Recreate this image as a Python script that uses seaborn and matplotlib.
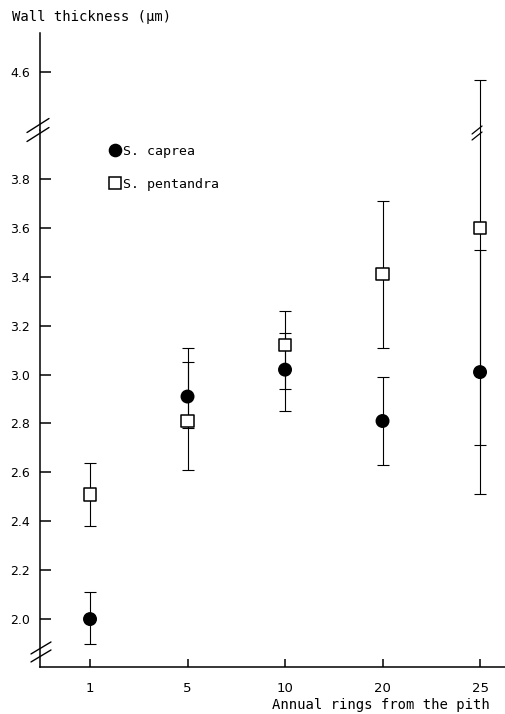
import numpy as np
import pandas as pd
import seaborn as sns
import matplotlib
matplotlib.use("Agg")
import matplotlib.pyplot as plt
from matplotlib.lines import Line2D
from matplotlib.transforms import IdentityTransform

# values
rings = ["1", "5", "10", "20", "25"]
caprea_mean = [2.00, 2.91, 3.02, 2.81, 3.01]
caprea_low = [1.90, 2.78, 2.85, 2.63, 2.51]
caprea_high = [2.11, 3.11, 3.17, 2.99, 3.51]
pentandra_mean = [2.51, 2.81, 3.12, 3.41, 3.60]
pentandra_low = [2.38, 2.61, 2.94, 3.11, 2.71]
pentandra_high = [2.64, 3.05, 3.26, 3.71, 4.57]

pos = np.arange(len(rings))
df = pd.concat([
    pd.DataFrame({"species": "S. caprea", "pos": pos, "mean": caprea_mean,
                  "low": caprea_low, "high": caprea_high}),
    pd.DataFrame({"species": "S. pentandra", "pos": pos, "mean": pentandra_mean,
                  "low": pentandra_low, "high": pentandra_high}),
], ignore_index=True)

sns.set_style("ticks")
plt.rcParams['font.family'] = ['DejaVu Sans Condensed', 'Liberation Sans Narrow', 'DejaVu Sans']
for k in ('text.color', 'axes.edgecolor', 'axes.labelcolor', 'xtick.color', 'ytick.color'):
    plt.rcParams[k] = 'black'
mono = 'DejaVu Sans Mono'

W, H = 505, 714
fig = plt.figure(figsize=(W / 100, H / 100), dpi=100)
ax = fig.add_axes([40 / W, 47 / H, 465 / W, 537 / H])
ax_top = fig.add_axes([40 / W, 584 / H, 465 / W, 97 / H])

styles = {"S. caprea": ("o", "black"), "S. pentandra": ("s", "white")}

for a in (ax, ax_top):
    for sp, (mk, fc) in styles.items():
        sub = df[df.species == sp]
        a.errorbar(sub["pos"], sub["mean"],
                   yerr=[sub["mean"] - sub["low"], sub["high"] - sub["mean"]],
                   fmt='none', ecolor='black', elinewidth=0.8,
                   capsize=4.3, capthick=0.8, zorder=2)
    sns.scatterplot(data=df, x="pos", y="mean", hue="species", style="species",
                    markers={k: v[0] for k, v in styles.items()},
                    palette={k: v[1] for k, v in styles.items()},
                    edgecolor='black', linewidth=1.1, s=80, ax=a,
                    legend=False, zorder=3)
    a.set_xlim(-0.513, 4.256)
    a.set_xlabel("")
    a.set_ylabel("")
    for s in a.spines.values():
        s.set_linewidth(1.1)

ax.set_ylim(1.804, 4.0)
yt = np.round(np.arange(2.0, 3.81, 0.2), 1)
ax.set_yticks(yt, [f"{v:.1f}" for v in yt])
ax.set_xticks(pos, rings)
ax.tick_params(axis='y', direction='in', length=8, width=1.1, labelsize=9, pad=7)
ax.tick_params(axis='x', direction='in', length=6, width=1.1, labelsize=9.5, pad=11)
sns.despine(ax=ax)

ax_top.set_ylim(4.366, 4.76)
ax_top.set_yticks([4.6], ["4.6"])
ax_top.set_xticks([])
ax_top.tick_params(axis='y', direction='in', length=8, width=1.1, labelsize=9, pad=7)
sns.despine(ax=ax_top, bottom=True)

# legend
handles = [
    Line2D([], [], ls='none', marker='o', ms=8.8, mfc='black', mec='black', label='S. caprea'),
    Line2D([], [], ls='none', marker='s', ms=8.4, mfc='white', mec='black', mew=1.1, label='S. pentandra'),
]
ax.legend(handles=handles, loc='upper left', bbox_to_anchor=(0.148, 0.972),
          frameon=False, handletextpad=0.05, handlelength=1.0, labelspacing=1.5,
          borderaxespad=0, borderpad=0, prop={'family': mono, 'size': 9.5})

# axis break marks
def draw_break(cx, cy, hw, hh, off, lw=1.0):
    for d in (-off, off):
        fig.add_artist(Line2D([cx - hw, cx + hw], [cy - hh + d, cy + hh + d],
                              color='black', lw=lw, transform=IdentityTransform()))

cx, cy = ax.transAxes.transform((0, 1))
draw_break(cx - 2, cy, 11, 7, 4.5)
cx, cy = ax.transAxes.transform((0, 0.028))
draw_break(cx + 1, cy, 10, 6, 4)
cx, _ = ax.transData.transform((pos[-1], 0))
_, cy = ax.transAxes.transform((0, 1))
draw_break(cx - 3, cy - 3, 5, 4, 3, lw=0.9)

fig.text(12 / W, 1 - 17 / H, "Wall thickness (µm)", family=mono, fontsize=10,
         ha='left', va='center')
fig.text(490 / W, 1 - 705 / H, "Annual rings from the pith", family=mono,
         fontsize=10, ha='right', va='center')

fig.savefig("out.png", dpi=100)
